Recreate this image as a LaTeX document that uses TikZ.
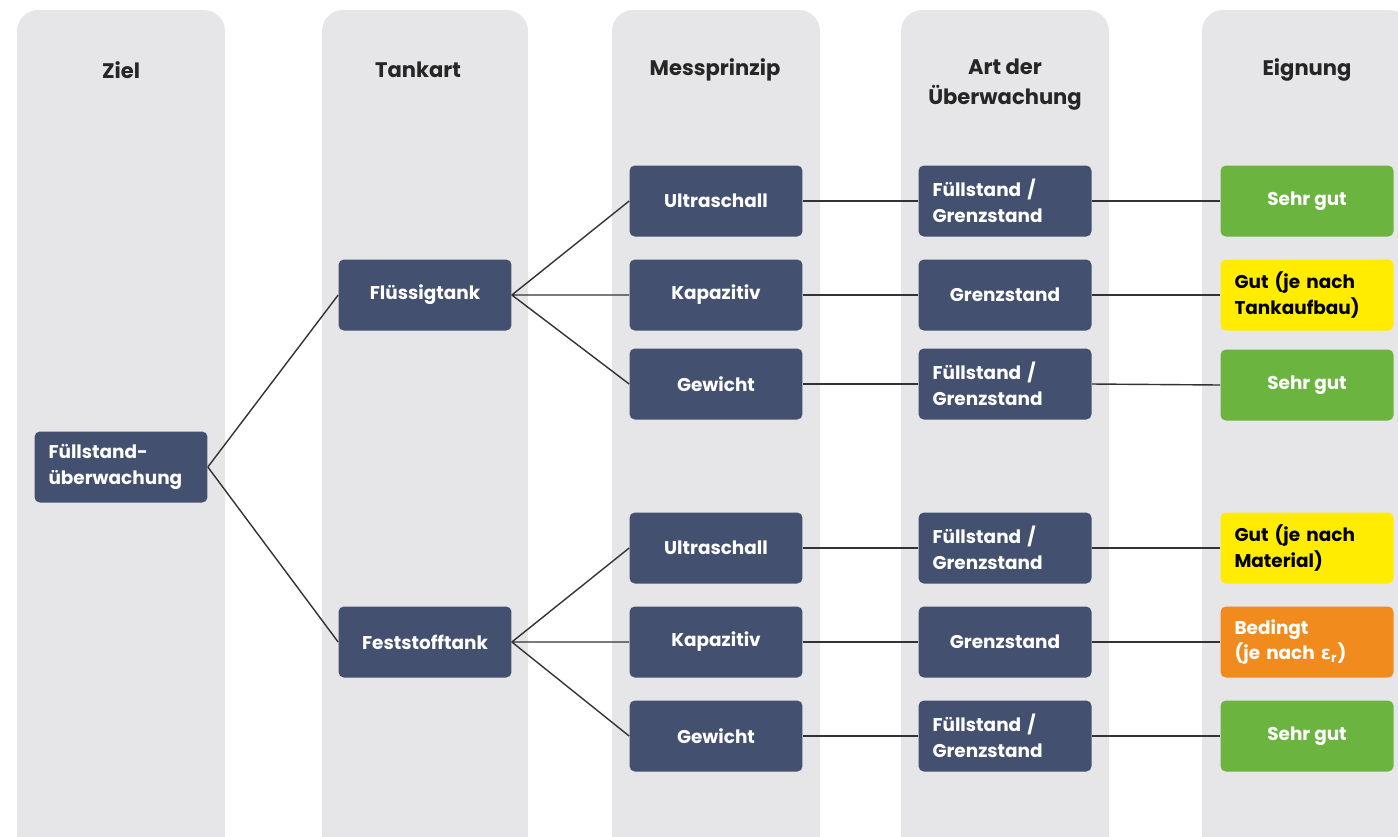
\documentclass[tikz,border=0pt]{standalone}
\usepackage{fontspec}
\setmainfont{Poppins}
\newfontfamily\griech{DejaVu Sans}
\usetikzlibrary{positioning}
\definecolor{spalte}{HTML}{E6E6E8}
\definecolor{dunkelblau}{HTML}{44506F}
\definecolor{gruen}{HTML}{6AB43F}
\definecolor{gelb}{HTML}{FFEC00}
\definecolor{orange}{HTML}{F18B1D}
\definecolor{linie}{HTML}{333333}

\begin{document}
\begin{tikzpicture}[x=0.02cm, y=-0.02cm,
    kasten/.style={fill=dunkelblau, text=white, rounded corners=3pt,
        minimum width=3.46cm, minimum height=1.42cm, inner sep=4pt,
        font=\bfseries\fontsize{10.5}{14.5}\selectfont, align=left},
    zweizeilig/.style={text width=2.9cm},
    wertung/.style={kasten, fill=#1},
    kopf/.style={font=\bfseries\fontsize{12}{17}\selectfont, text=black!85, align=center},
    verbindung/.style={draw=linie, line width=0.8pt}
]
    \useasboundingbox (0, 0) rectangle (1398, 836);
    \begin{scope}
        \clip (0, 0) rectangle (1398, 836);
        \fill[spalte, rounded corners=12pt]
        (17, 10) rectangle (225, 880)
        (322, 10) rectangle (528, 880)
        (612, 10) rectangle (820, 880)
        (901, 10) rectangle (1109, 880)
        (1202, 10) rectangle (1410, 880);
    \end{scope}

    % Spaltenkoepfe
    \node[kopf] (kziel) at (121, 70) {Ziel};
    \node[kopf] (ktank) at (418, 70) {Tankart};
    \node[kopf] (kmess) at (715, 70) {Messprinzip};
    \node[kopf] (kart) at (1005, 85) {Art der\\Überwachung};
    \node[kopf] (keign) at (1307, 70) {Eignung};

    % Ziel und Tankart
    \node[kasten, zweizeilig] (ziel) at (121, 467) {Füllstand-\\überwachung};
    \node[kasten] (fluessig) at (425, 295) {Flüssigtank};
    \node[kasten] (fest) at (425, 642) {Feststofftank};

    % Messprinzip
    \node[kasten] (ultra1) at (716, 201) {Ultraschall};
    \node[kasten] (kapa1) at (716, 295) {Kapazitiv};
    \node[kasten] (gew1) at (716, 384) {Gewicht};
    \node[kasten] (ultra2) at (716, 548) {Ultraschall};
    \node[kasten] (kapa2) at (716, 642) {Kapazitiv};
    \node[kasten] (gew2) at (716, 736) {Gewicht};

    % Art der Ueberwachung
    \node[kasten, zweizeilig] (art1) at (1005, 201) {Füllstand /\\Grenzstand};
    \node[kasten] (art2) at (1005, 295) {Grenzstand};
    \node[kasten, zweizeilig] (art3) at (1005, 384) {Füllstand /\\Grenzstand};
    \node[kasten, zweizeilig] (art4) at (1005, 548) {Füllstand /\\Grenzstand};
    \node[kasten] (art5) at (1005, 642) {Grenzstand};
    \node[kasten, zweizeilig] (art6) at (1005, 736) {Füllstand /\\Grenzstand};

    % Eignung
    \node[wertung=gruen] (eig1) at (1307, 201) {Sehr gut};
    \node[wertung=gelb, zweizeilig, text=black] (eig2) at (1307, 295) {Gut (je nach\\Tankaufbau)};
    \node[wertung=gruen] (eig3) at (1307, 385) {Sehr gut};
    \node[wertung=gelb, zweizeilig, text=black] (eig4) at (1307, 548) {Gut (je nach\\Material)};
    \node[wertung=orange, zweizeilig] (eig5) at (1307, 642) {Bedingt\\(je nach {\griech ε}\textsubscript{r})};
    \node[wertung=gruen] (eig6) at (1307, 736) {Sehr gut};

    \draw[verbindung]
    (ziel.east) -- (fluessig.west)
    (ziel.east) -- (fest.west)
    (fluessig.east) -- (ultra1.west)
    (fluessig.east) -- (kapa1.west)
    (fluessig.east) -- (gew1.west)
    (fest.east) -- (ultra2.west)
    (fest.east) -- (kapa2.west)
    (fest.east) -- (gew2.west);

    \foreach \i/\m in {1/ultra1, 2/kapa1, 3/gew1, 4/ultra2, 5/kapa2, 6/gew2} {
        \draw[verbindung] (\m.east) -- (art\i.west);
        \draw[verbindung] (art\i.east) -- (eig\i.west);
    }
\end{tikzpicture}
\end{document}
